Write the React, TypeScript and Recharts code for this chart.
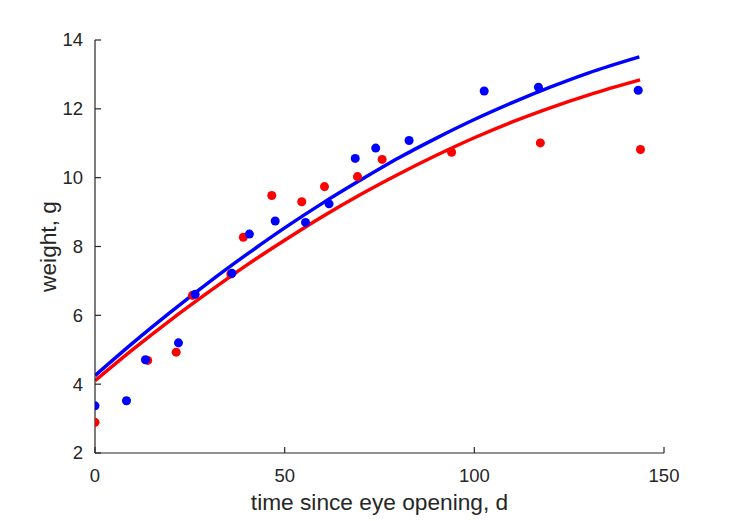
import React from 'react';
import { ComposedChart, XAxis, YAxis, Scatter, Line, Label } from 'recharts';

// Observed weights (red group)
const redTimes = [0, 13.9, 21.4, 25.7, 35.8, 39.1, 46.6, 54.5, 60.5, 69.2, 75.7, 94.0, 117.4, 143.8];
const redWeights = [2.89, 4.69, 4.93, 6.58, 7.2, 8.27, 9.48, 9.3, 9.74, 10.03, 10.53, 10.74, 11.01, 10.82];

// Observed weights (blue group)
const blueTimes = [0, 8.3, 13.3, 22.0, 26.4, 36.1, 40.7, 47.5, 55.5, 61.7, 68.6, 74.0, 82.8, 102.6, 116.9, 143.2];
const blueWeights = [3.37, 3.52, 4.71, 5.2, 6.61, 7.22, 8.36, 8.74, 8.7, 9.24, 10.56, 10.86, 11.08, 12.52, 12.63, 12.54];

// Fitted curves
const redFitTimes = [0, 10, 20, 30, 40, 50, 60, 70, 80, 90, 100, 110, 120, 130, 143.7];
const redFitWeights = [4.1, 5.01, 5.87, 6.68, 7.46, 8.18, 8.87, 9.51, 10.1, 10.65, 11.16, 11.62, 12.03, 12.4, 12.84];
const blueFitTimes = [0, 10, 20, 30, 40, 50, 60, 70, 80, 90, 100, 110, 120, 130, 143.5];
const blueFitWeights = [4.25, 5.2, 6.1, 6.96, 7.77, 8.54, 9.26, 9.93, 10.57, 11.15, 11.69, 12.18, 12.63, 13.04, 13.51];

const xTicks = [0, 50, 100, 150];
const yTicks = [2, 4, 6, 8, 10, 12, 14];

const zip = (xs: number[], ys: number[]) => xs.map((x, i) => ({ x, y: ys[i] }));

const redPts = zip(redTimes, redWeights);
const bluePts = zip(blueTimes, blueWeights);
const redFit = zip(redFitTimes, redFitWeights);
const blueFit = zip(blueFitTimes, blueFitWeights);

const FONT = '"Liberation Sans", Arial, Helvetica, sans-serif';
const INK = '#262626';
const TICK_LEN = 6;
const X_MARGIN = 16;
const Y_MARGIN = 12;

const XTick = (props: any) => {
  const { x, y, payload } = props;
  const axisY = y - X_MARGIN;
  return (
    <g>
      <line x1={x} y1={axisY} x2={x} y2={axisY - TICK_LEN} stroke={INK} strokeWidth={1.2} />
      <text x={x} y={y} dy="0.71em" textAnchor="middle" fill={INK} fontSize={18.5} fontFamily={FONT}>
        {payload.value}
      </text>
    </g>
  );
};

const YTick = (props: any) => {
  const { x, y, payload } = props;
  const axisX = x + Y_MARGIN;
  return (
    <g>
      <line x1={axisX} y1={y} x2={axisX + TICK_LEN} y2={y} stroke={INK} strokeWidth={1.2} />
      <text x={x} y={y} dy="0.35em" textAnchor="end" fill={INK} fontSize={18.5} fontFamily={FONT}>
        {payload.value}
      </text>
    </g>
  );
};

export default function App() {
  return (
    <div style={{ position: 'absolute', left: 0, top: 0, background: '#fff' }}>
      <ComposedChart width={729} height={521} margin={{ top: 40, right: 65, bottom: 0, left: 0 }}>
        <XAxis
          dataKey="x"
          type="number"
          domain={[0, 150]}
          ticks={xTicks}
          allowDataOverflow
          height={68}
          tickSize={0}
          tickMargin={X_MARGIN}
          tick={<XTick />}
          axisLine={{ stroke: INK, strokeWidth: 1.2 }}
          tickLine={false}
          interval={0}
        >
          <Label
            value="time since eye opening, d"
            position="insideBottom"
            offset={11}
            fill={INK}
            fontSize={22.7}
            fontFamily={FONT}
          />
        </XAxis>
        <YAxis
          dataKey="y"
          type="number"
          domain={[2, 14]}
          ticks={yTicks}
          allowDataOverflow
          width={95}
          tickSize={0}
          tickMargin={Y_MARGIN}
          tick={<YTick />}
          axisLine={{ stroke: INK, strokeWidth: 1.2 }}
          tickLine={false}
          interval={0}
        >
          <Label
            value="weight, g"
            position="center"
            angle={-90}
            fill={INK}
            fontSize={22.7}
            fontFamily={FONT}
          />
        </YAxis>
        <Scatter data={redPts} fill="#ff0000" isAnimationActive={false} />
        <Scatter data={bluePts} fill="#0000ff" isAnimationActive={false} />
        <Line data={redFit} dataKey="y" stroke="#ff0000" strokeWidth={3.5} dot={false} type="monotone" isAnimationActive={false} />
        <Line data={blueFit} dataKey="y" stroke="#0000ff" strokeWidth={3.5} dot={false} type="monotone" isAnimationActive={false} />
      </ComposedChart>
    </div>
  );
}
